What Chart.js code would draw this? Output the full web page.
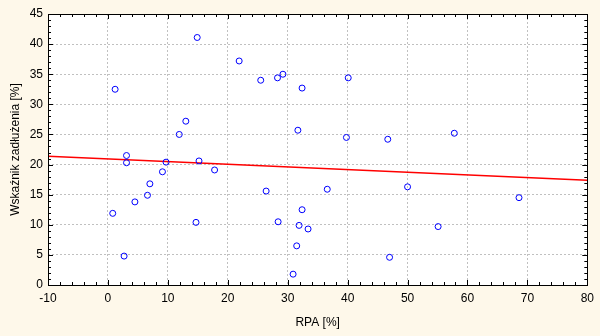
<!DOCTYPE html>
<html>
<head>
<meta charset="utf-8">
<script src="https://cdn.jsdelivr.net/npm/chart.js@4/dist/chart.umd.min.js"></script>
<style>
body { margin: 0; background: #fef8ea; }
#wrap { width: 600px; height: 336px; }
</style>
</head>
<body>
<div id="wrap"><canvas id="rpa-chart" width="600" height="336"></canvas></div>
<script>
// RPA [%] vs Wskaznik zadluzenia [%]
var rpa = [0.8, 2.7, 3.1, 4.5, 6.6, 7.0, 9.1, 9.7, 14.7,
	1.2, 3.1, 11.9, 13.0, 14.9, 15.2,
	21.9, 25.5, 28.3, 29.2, 32.4, 40.1, 31.7, 39.8, 46.7, 17.8,
	57.8,
	26.4, 36.6, 32.4, 28.4, 31.9, 33.4, 31.5, 30.9, 47.0,
	50.0, 55.1, 68.6];
var zadluzenie = [11.9, 4.8, 20.3, 13.8, 14.9, 16.8, 18.8, 20.4, 10.4,
	32.5, 21.5, 25.0, 27.2, 41.1, 20.6,
	37.2, 34.0, 34.4, 35.0, 32.7, 34.4, 25.7, 24.5, 24.2, 19.1,
	25.2,
	15.6, 15.9, 12.5, 10.5, 9.9, 9.3, 6.5, 1.8, 4.6,
	16.3, 9.7, 14.5];
var fitX = [-10, 80];
var fitY = [21.4, 17.4];

var points = rpa.map(function (x, i) { return { x: x, y: zadluzenie[i] }; });
var fitLine = fitX.map(function (x, i) { return { x: x, y: fitY[i] }; });

// frame + small inner tick marks like the original
var frameTicks = {
	id: 'frameTicks',
	afterDatasetsDraw: function (chart) {
		var c = chart.ctx, a = chart.chartArea;
		var xs = chart.scales.x, ys = chart.scales.y;
		c.save();
		c.strokeStyle = '#000';
		c.lineWidth = 1;
		c.beginPath();
		for (var v = -10; v <= 80; v += 2) {
			var px = Math.round(xs.getPixelForValue(v)) + 0.5;
			var len = (v % 10 === 0) ? 5 : 3;
			c.moveTo(px, a.bottom); c.lineTo(px, a.bottom - len);
			c.moveTo(px, a.top); c.lineTo(px, a.top + len);
		}
		for (var w = 0; w <= 45; w += 1) {
			var py = Math.round(ys.getPixelForValue(w)) + 0.5;
			var l2 = (w % 5 === 0) ? 5 : 3;
			c.moveTo(a.left, py); c.lineTo(a.left + l2, py);
			c.moveTo(a.right, py); c.lineTo(a.right - l2, py);
		}
		c.stroke();
		c.strokeRect(Math.round(a.left) + 0.5, Math.round(a.top) + 0.5,
			Math.round(a.right - a.left), Math.round(a.bottom - a.top));
		c.restore();
	}
};

var plotBg = {
	id: 'plotBg',
	beforeDraw: function (chart) {
		var c = chart.ctx, a = chart.chartArea;
		c.save();
		c.fillStyle = '#fef8ea';
		c.fillRect(0, 0, chart.width, chart.height);
		c.fillStyle = '#ffffff';
		c.fillRect(a.left, a.top, a.right - a.left, a.bottom - a.top);
		c.restore();
	}
};

Chart.defaults.font.family = '"Liberation Sans", Arial, sans-serif';
Chart.defaults.color = '#000';

var ctx = document.getElementById('rpa-chart').getContext('2d');
var myChart = new Chart(ctx, {
	type: 'scatter',
	data: {
		datasets: [{
			label: 'dane',
			data: points,
			showLine: false,
			pointStyle: 'circle',
			pointRadius: 3,
			pointBorderWidth: 1,
			pointBorderColor: '#0000ff',
			pointBackgroundColor: 'rgba(0,0,0,0)'
		}, {
			label: 'regresja',
			data: fitLine,
			showLine: true,
			pointRadius: 0,
			borderColor: '#ff0000',
			borderWidth: 1.5
		}]
	},
	options: {
		responsive: false,
		animation: false,
		layout: { padding: { top: 14, right: 12, left: 0, bottom: 0 } },
		plugins: {
			legend: { display: false },
			tooltip: { enabled: false }
		},
		scales: {
			x: {
				type: 'linear',
				min: -10,
				max: 80,
				ticks: { stepSize: 10, padding: 6, font: { size: 12 } },
				grid: { color: '#c0c0c0', drawTicks: false },
				border: { display: false, dash: [2, 2] },
				title: { display: true, text: 'RPA [%]', font: { size: 12 }, padding: { top: 6, bottom: 6 } },
				afterFit: function (s) { s.height = 51; }
			},
			y: {
				min: 0,
				max: 45,
				ticks: { stepSize: 5, padding: 5, font: { size: 12 } },
				grid: { color: '#c0c0c0', drawTicks: false },
				border: { display: false, dash: [2, 2] },
				title: { display: true, text: 'Wskaźnik zadłużenia [%]', font: { size: 12 }, padding: { top: 8, bottom: 0 } },
				afterFit: function (s) { s.width = 48; }
			}
		}
	},
	plugins: [plotBg, frameTicks]
});
</script>
</body>
</html>
